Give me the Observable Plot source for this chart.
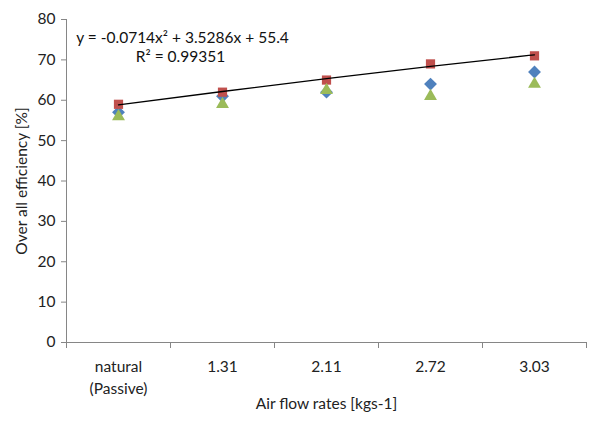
<!DOCTYPE html>
<html><head><meta charset="utf-8">
<script src="https://cdn.jsdelivr.net/npm/d3@7"></script>
<script src="https://cdn.jsdelivr.net/npm/@observablehq/plot@0.6"></script>
<style>body{margin:0;background:#fff}</style>
</head><body><div id="chart"></div>
<script>
const categories = ["natural\n(Passive)", "1.31", "2.11", "2.72", "3.03"];
const seriesBlue = [57, 61, 62, 64, 67];
const seriesRed = [59, 62, 65, 69, 71];
const seriesGreen = [56, 59, 62.5, 61, 64];
const trendRed = [58.86, 62.17, 65.34, 68.37, 71.26];
const yTicks = [0, 10, 20, 30, 40, 50, 60, 70, 80];
const equation = "y = -0.0714x² + 3.5286x + 55.4";
const rSquared = "R² = 0.99351";
const xTitle = "Air flow rates [kgs-1]";
const yTitle = "Over all efficiency [%]";

const idx = categories.map((_, i) => i + 1);
const bounds = [0.5, 1.5, 2.5, 3.5, 4.5, 5.5];
const rows = vals => vals.map((v, i) => ({x: i + 1, y: v}));
const axisGray = "#868686";

const chart = Plot.plot({
  width: 604, height: 421,
  marginLeft: 66, marginRight: 18, marginTop: 19, marginBottom: 79,
  style: {fontFamily: "Lato", fontSize: "15px", color: "#222", background: "#fff"},
  x: {type: "linear", domain: [0.5, 5.5], axis: null},
  y: {domain: [0, 80], axis: null},
  marks: [
    Plot.ruleX([0.5], {stroke: axisGray}),
    Plot.ruleY([0], {stroke: axisGray}),
    Plot.axisY(yTicks, {tickSize: 5, tickPadding: 6, stroke: axisGray, fill: "#222", label: null, fontSize: 15.5}),
    Plot.axisX(bounds, {tickSize: 6, tickFormat: () => "", stroke: axisGray, label: null}),
    Plot.axisX(idx, {tickSize: 0, tickPadding: 14, tickFormat: d => categories[d - 1], fill: "#222", label: null, fontSize: 15.5, lineHeight: 1.4}),
    Plot.text([xTitle], {frameAnchor: "bottom", dy: 66, fontSize: 15.5, fill: "#222"}),
    Plot.text([yTitle], {frameAnchor: "left", textAnchor: "middle", dx: -44, rotate: -90, fontSize: 15.5, fill: "#222"}),
    Plot.dot(rows(seriesBlue), {x: "x", y: "y", symbol: "diamond2", r: 5.8, fill: "#4F81BD", stroke: "none"}),
    Plot.dot(rows(seriesRed), {x: "x", y: "y", symbol: "square", r: 5.2, fill: "#C0504D", stroke: "none"}),
    Plot.dot(rows(seriesGreen), {x: "x", y: "y", symbol: "triangle", r: 4.8, fill: "#9BBB59", stroke: "none"}),
    Plot.line(rows(trendRed), {x: "x", y: "y", stroke: "#000", strokeWidth: 1.3, curve: "monotone-x"}),
    Plot.text([equation], {frameAnchor: "top-left", dx: 116, dy: 12, textAnchor: "middle", fontSize: 15.5, fill: "#111"}),
    Plot.text([rSquared], {frameAnchor: "top-left", dx: 114, dy: 31, textAnchor: "middle", fontSize: 15.5, fill: "#111"})
  ]
});
document.getElementById("chart").appendChild(chart);
</script>
</body></html>
